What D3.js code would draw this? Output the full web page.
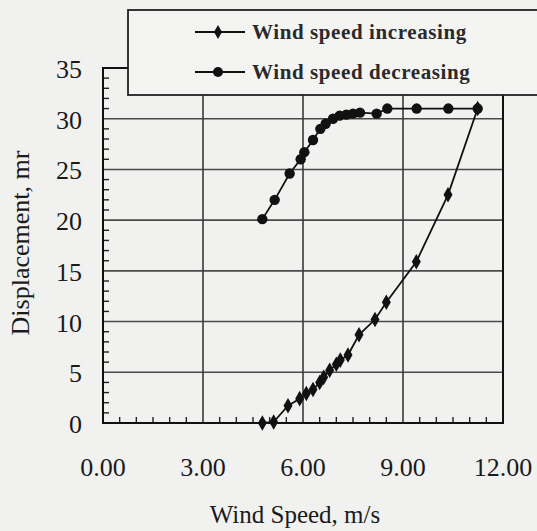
<!DOCTYPE html>
<html><head><meta charset="utf-8">
<script src="https://cdn.jsdelivr.net/npm/d3@7"></script>
<style>body{margin:0;background:#f1f1f0;} svg{display:block;}</style>
</head><body><svg id="c" width="537" height="531"></svg>
<script>
const incWind = [4.78,5.12,5.55,5.9,6.1,6.3,6.5,6.62,6.8,7.0,7.12,7.35,7.68,8.16,8.5,9.4,10.35,11.24];
const incDisp = [0,0.1,1.7,2.4,2.9,3.3,4.0,4.5,5.2,5.8,6.2,6.7,8.7,10.2,11.9,15.9,22.5,31.0];
const decWind = [11.24,10.36,9.41,8.53,8.21,7.71,7.5,7.3,7.1,6.9,6.68,6.52,6.3,6.04,5.93,5.6,5.15,4.78];
const decDisp = [31.0,31.0,31.0,31.0,30.5,30.6,30.5,30.4,30.3,30.0,29.5,29.0,27.9,26.7,26.0,24.6,22.0,20.1];
const xTicks = [0,3,6,9,12];
const yTicks = [0,5,10,15,20,25,30,35];
const legendLabels = ["Wind speed increasing","Wind speed decreasing"];

const svg = d3.select("#c");
const x = d3.scaleLinear().domain([0,12]).range([103,503]);
const y = d3.scaleLinear().domain([0,35]).range([423,68]);
const font = "'Liberation Serif','Times New Roman',serif";

// gridlines
svg.append("g").selectAll("line").data([5,10,15,20,25,30]).join("line")
  .attr("x1",x(0)).attr("x2",x(12)).attr("y1",d=>y(d)).attr("y2",d=>y(d))
  .attr("stroke","#4a4a4a").attr("stroke-width",1.6);
svg.append("g").selectAll("line").data([3,6,9]).join("line")
  .attr("y1",y(0)).attr("y2",y(35)).attr("x1",d=>x(d)).attr("x2",d=>x(d))
  .attr("stroke","#3a3a3a").attr("stroke-width",1.6);

// minor ticks
const xMinor = d3.range(0.5,12,0.5).filter(v=>v%3!==0);
svg.append("g").selectAll("line").data(xMinor).join("line")
  .attr("x1",d=>x(d)).attr("x2",d=>x(d)).attr("y1",y(0)).attr("y2",y(0)-6)
  .attr("stroke","#222").attr("stroke-width",1.4);
const yMinor = d3.range(1,35,1).filter(v=>v%5!==0);
svg.append("g").selectAll("line").data(yMinor).join("line")
  .attr("x1",x(0)).attr("x2",x(0)+6).attr("y1",d=>y(d)).attr("y2",d=>y(d))
  .attr("stroke","#222").attr("stroke-width",1.4);

// frame
svg.append("rect").attr("x",x(0)).attr("y",y(35)).attr("width",x(12)-x(0)).attr("height",y(0)-y(35))
  .attr("fill","none").attr("stroke","#111").attr("stroke-width",2);

// tick labels
svg.append("g").selectAll("text").data(xTicks).join("text")
  .attr("x",d=>x(d)).attr("y",476).attr("text-anchor","middle")
  .attr("font-family",font).attr("font-size",26).attr("fill","#1a1a1a")
  .text(d=>d3.format(".2f")(d));
svg.append("g").selectAll("text").data(yTicks).join("text")
  .attr("x",82).attr("y",d=>y(d)+4).attr("text-anchor","end").attr("dominant-baseline","middle")
  .attr("font-family",font).attr("font-size",26).attr("fill","#1a1a1a")
  .text(d=>d);

// axis titles
svg.append("text").attr("x",295).attr("y",523).attr("text-anchor","middle")
  .attr("font-family",font).attr("font-size",25).attr("fill","#1a1a1a").text("Wind Speed, m/s");
svg.append("text").attr("transform","translate(29,243) rotate(-90)").attr("text-anchor","middle")
  .attr("font-family",font).attr("font-size",26).attr("fill","#1a1a1a").text("Displacement, mr");

// series
const line = d3.line().x(d=>x(d[0])).y(d=>y(d[1]));
const inc = incWind.map((w,i)=>[w,incDisp[i]]);
const dec = decWind.map((w,i)=>[w,decDisp[i]]);
svg.append("path").attr("d",line(inc)).attr("fill","none").attr("stroke","#111").attr("stroke-width",1.8);
svg.append("path").attr("d",line(dec)).attr("fill","none").attr("stroke","#111").attr("stroke-width",1.8);
const diamond = d3.symbol().type(d3.symbolDiamond).size(70);
svg.append("g").selectAll("path").data(inc).join("path")
  .attr("d",diamond).attr("transform",d=>`translate(${x(d[0])},${y(d[1])})`).attr("fill","#111");
svg.append("g").selectAll("circle").data(dec).join("circle")
  .attr("cx",d=>x(d[0])).attr("cy",d=>y(d[1])).attr("r",5.2).attr("fill","#111");

// legend
svg.append("rect").attr("x",128).attr("y",10).attr("width",420).attr("height",85)
  .attr("fill","#f4f4f3").attr("stroke","#222").attr("stroke-width",1.8);
const lg = svg.append("g").selectAll("g").data(legendLabels).join("g")
  .attr("transform",(d,i)=>`translate(0,${32+i*40})`);
lg.append("line").attr("x1",195).attr("x2",245).attr("stroke","#111").attr("stroke-width",2);
lg.filter((d,i)=>i===0).append("path").attr("d",d3.symbol().type(d3.symbolDiamond).size(55)).attr("transform","translate(218,0)").attr("fill","#111");
lg.filter((d,i)=>i===1).append("circle").attr("cx",218).attr("r",5).attr("fill","#111");
lg.append("text").attr("x",252).attr("y",7).attr("font-family",font).attr("font-weight","bold")
  .attr("font-size",21).attr("fill","#2a2a2a").attr("letter-spacing",0.6).text(d=>d);
</script></body></html>
